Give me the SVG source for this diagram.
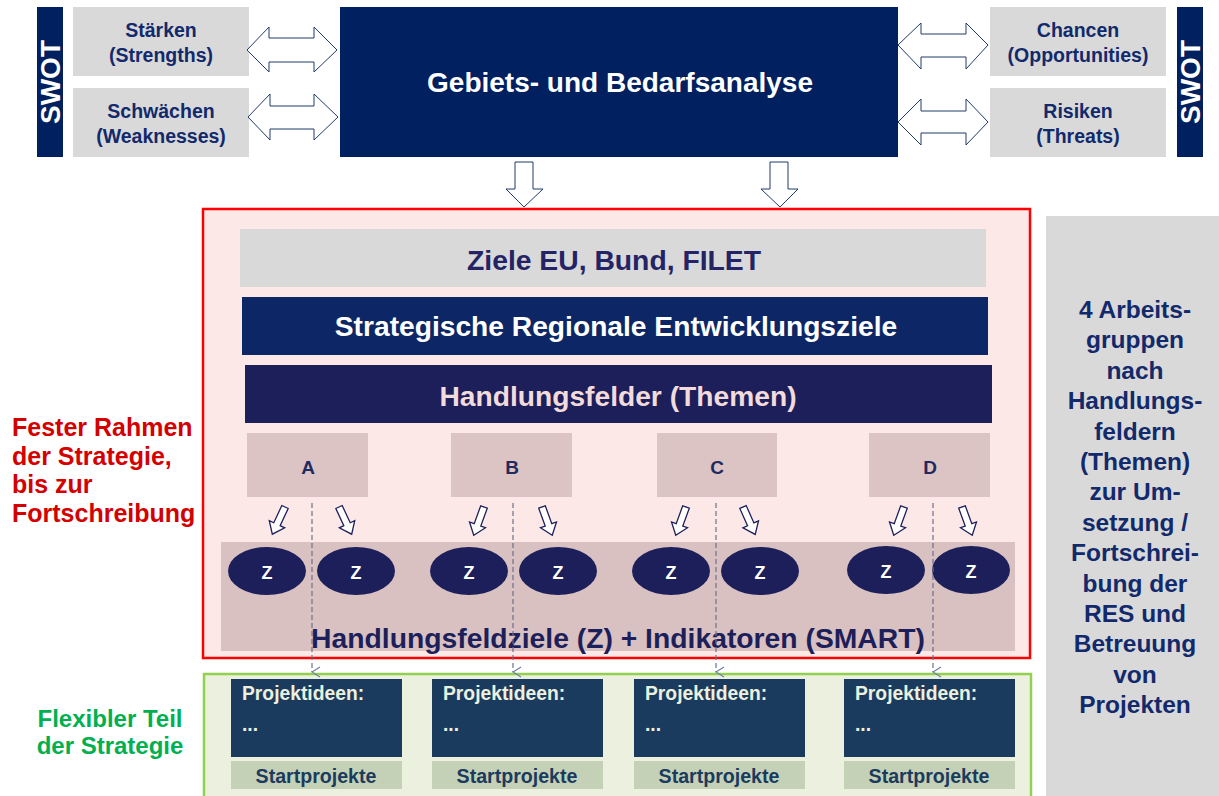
<svg xmlns="http://www.w3.org/2000/svg" width="1219" height="796" viewBox="0 0 1219 796">
<defs>
<style>
text{font-family:"Liberation Sans",Arial,sans-serif;font-weight:bold}
.gray{fill:#d9d9d9}
.navyT{fill:#12296b}
.dbl{fill:#fff;stroke:#1f3a6b;stroke-width:1}
.sm{fill:#fff;stroke:#1c1f5a;stroke-width:1.3}
.lt{fill:#dcc3c4}
.ell{fill:#1c1f5a}
.zt{fill:#fff;font-size:18px;text-anchor:middle}
.let{fill:#1f2a60;font-size:19px;text-anchor:middle}
.dash{stroke:#6e6e8e;stroke-width:1.2;stroke-dasharray:5,3;fill:none}
.pbox{fill:#1b3b5e}
.ptext{fill:#ebf1de;font-size:19.3px}
.sbox{fill:#c4d1b6}
.stext{fill:#1b3b5e;font-size:19.6px;text-anchor:middle}
.mid{text-anchor:middle}
</style>
<path id="sa" d="M-3.5,0 L3.5,0 L3.5,19 L8.5,19 L0,30 L-8.5,19 L-3.5,19 Z"/>
<marker id="vh" viewBox="0 0 12 10" refX="6" refY="9" markerWidth="12" markerHeight="10" markerUnits="userSpaceOnUse" orient="auto-start-reverse">
<path d="M1,1 L6,9 L11,1" fill="none" stroke="#6e7ea0" stroke-width="1.2"/>
</marker>
</defs>
<rect width="1219" height="796" fill="#fff"/>

<g id="swot-left">
<rect x="37" y="7" width="26" height="150" fill="#002060"/>
<text transform="translate(60,82) rotate(-90)" class="mid" fill="#fff" font-size="28">SWOT</text>
</g>
<g id="swot-right">
<rect x="1177" y="7" width="26" height="150" fill="#002060"/>
<text transform="translate(1200,82) rotate(-90)" class="mid" fill="#fff" font-size="28">SWOT</text>
</g>

<g id="staerken">
<rect x="73" y="7" width="176" height="69" class="gray"/>
<text x="161" y="37" class="mid navyT" font-size="19.5">Stärken</text>
<text x="161" y="62" class="mid navyT" font-size="19.5">(Strengths)</text>
</g>
<g id="schwaechen">
<rect x="73" y="88" width="176" height="69" class="gray"/>
<text x="161" y="118" class="mid navyT" font-size="19.5">Schwächen</text>
<text x="161" y="143" class="mid navyT" font-size="19.5">(Weaknesses)</text>
</g>
<g id="chancen">
<rect x="990" y="7" width="176" height="69" class="gray"/>
<text x="1078" y="37" class="mid navyT" font-size="19.5">Chancen</text>
<text x="1078" y="62" class="mid navyT" font-size="19.5">(Opportunities)</text>
</g>
<g id="risiken">
<rect x="990" y="88" width="176" height="69" class="gray"/>
<text x="1078" y="118" class="mid navyT" font-size="19.5">Risiken</text>
<text x="1078" y="143" class="mid navyT" font-size="19.5">(Threats)</text>
</g>

<g id="analyse">
<rect x="340" y="7" width="558" height="150" fill="#002060"/>
<text x="620" y="92" class="mid" fill="#fff" font-size="28">Gebiets- und Bedarfsanalyse</text>
</g>

<g id="fester-rahmen">
<rect x="203" y="209" width="827" height="449" fill="#fde8e8" stroke="#ff0000" stroke-width="2.5"/>
</g>
<g id="flexibler-teil">
<rect x="204" y="674" width="827" height="130" fill="#ebf1de" stroke="#92d050" stroke-width="2.5"/>
</g>

<g id="arbeitsgruppen">
<rect x="1046" y="216" width="173" height="580" class="gray"/>
<g class="mid navyT" font-size="24.5">
<text x="1135" y="318">4 Arbeits-</text>
<text x="1135" y="348.4">gruppen</text>
<text x="1135" y="378.8">nach</text>
<text x="1135" y="409.2">Handlungs-</text>
<text x="1135" y="439.6">feldern</text>
<text x="1135" y="470">(Themen)</text>
<text x="1135" y="500.4">zur Um-</text>
<text x="1135" y="530.8">setzung /</text>
<text x="1135" y="561.2">Fortschrei-</text>
<text x="1135" y="591.6">bung der</text>
<text x="1135" y="622">RES und</text>
<text x="1135" y="652.4">Betreuung</text>
<text x="1135" y="682.8">von</text>
<text x="1135" y="713.2">Projekten</text>
</g>
</g>

<g id="label-fest" fill="#d40000" font-size="25">
<text x="12" y="436">Fester Rahmen</text>
<text x="12" y="465">der Strategie,</text>
<text x="12" y="493">bis zur</text>
<text x="12" y="522">Fortschreibung</text>
</g>
<g id="label-flex" fill="#00b050" font-size="24" class="mid">
<text x="110" y="727">Flexibler Teil</text>
<text x="110" y="754">der Strategie</text>
</g>

<g id="ziele">
<rect x="240" y="229" width="746" height="58" class="gray"/>
<text x="614" y="270" class="mid" fill="#232365" font-size="28.3">Ziele EU, Bund, FILET</text>
</g>
<g id="strategische">
<rect x="242" y="297" width="746" height="58" fill="#0d2766"/>
<text x="616" y="336" class="mid" fill="#fff" font-size="28.2">Strategische Regionale Entwicklungsziele</text>
</g>
<g id="handlungsfelder">
<rect x="245" y="365" width="747" height="58" fill="#1d1f5b"/>
<text x="618" y="406" class="mid" fill="#f2dcdb" font-size="28.2">Handlungsfelder (Themen)</text>
</g>

<g id="z-band">
<rect x="221" y="542" width="794" height="109" fill="#d9c0c1"/>
<text x="618" y="648" class="mid" fill="#1c1f5a" font-size="28.3">Handlungsfeldziele (Z) + Indikatoren (SMART)</text>
</g>

<g id="feld-a"><rect x="247" y="433" width="121" height="64" class="lt"/><text x="308" y="474" class="let">A</text></g>
<g id="feld-b"><rect x="451" y="433" width="121" height="64" class="lt"/><text x="512" y="474" class="let">B</text></g>
<g id="feld-c"><rect x="657" y="433" width="120" height="64" class="lt"/><text x="717" y="474" class="let">C</text></g>
<g id="feld-d"><rect x="869" y="433" width="121" height="64" class="lt"/><text x="930" y="474" class="let">D</text></g>

<g id="z-a1"><ellipse cx="267" cy="571" rx="39" ry="24" class="ell"/><text x="267" y="579" class="zt">Z</text></g>
<g id="z-a2"><ellipse cx="356" cy="571" rx="39" ry="24" class="ell"/><text x="356" y="579" class="zt">Z</text></g>
<g id="z-b1"><ellipse cx="469" cy="571" rx="39" ry="24" class="ell"/><text x="469" y="579" class="zt">Z</text></g>
<g id="z-b2"><ellipse cx="558" cy="571" rx="39" ry="24" class="ell"/><text x="558" y="579" class="zt">Z</text></g>
<g id="z-c1"><ellipse cx="671" cy="571" rx="39" ry="24" class="ell"/><text x="671" y="579" class="zt">Z</text></g>
<g id="z-c2"><ellipse cx="760" cy="571" rx="39" ry="24" class="ell"/><text x="760" y="579" class="zt">Z</text></g>
<g id="z-d1"><ellipse cx="886" cy="570" rx="39" ry="24" class="ell"/><text x="886" y="578" class="zt">Z</text></g>
<g id="z-d2"><ellipse cx="971" cy="570" rx="39" ry="24" class="ell"/><text x="971" y="578" class="zt">Z</text></g>

<g id="projekt-1"><rect x="231" y="679" width="171" height="78" class="pbox"/><text x="242" y="700" class="ptext">Projektideen:</text><text x="242" y="731" class="ptext">...</text><rect x="231" y="761" width="171" height="28" class="sbox"/><text x="316" y="783" class="stext">Startprojekte</text></g>
<g id="projekt-2"><rect x="432" y="679" width="171" height="78" class="pbox"/><text x="443" y="700" class="ptext">Projektideen:</text><text x="443" y="731" class="ptext">...</text><rect x="432" y="761" width="171" height="28" class="sbox"/><text x="517" y="783" class="stext">Startprojekte</text></g>
<g id="projekt-3"><rect x="634" y="679" width="171" height="78" class="pbox"/><text x="645" y="700" class="ptext">Projektideen:</text><text x="645" y="731" class="ptext">...</text><rect x="634" y="761" width="171" height="28" class="sbox"/><text x="719" y="783" class="stext">Startprojekte</text></g>
<g id="projekt-4"><rect x="844" y="679" width="171" height="78" class="pbox"/><text x="855" y="700" class="ptext">Projektideen:</text><text x="855" y="731" class="ptext">...</text><rect x="844" y="761" width="171" height="28" class="sbox"/><text x="929" y="783" class="stext">Startprojekte</text></g>

<g id="connectors">
<polygon class="dbl" points="247,50 269,27 269,38 314,38 314,27 337,50 314,72 314,62 269,62 269,72"/>
<polygon class="dbl" points="248,117 270,94 270,106 314,106 314,94 338,117 314,140 314,129 270,129 270,140"/>
<polygon class="dbl" points="898,45 921,23 921,34 966,34 966,23 988,45 966,69 966,57 921,57 921,69"/>
<polygon class="dbl" points="898,122 921,99 921,111 966,111 966,99 988,122 966,145 966,133 921,133 921,145"/>
<polygon class="dbl" points="515,162 533,162 533,189 543,189 524,207 506,189 515,189"/>
<polygon class="dbl" points="770,162 788,162 788,189 798,189 780,207 761,189 770,189"/>
<use href="#sa" class="sm" transform="translate(285,507) rotate(25)"/>
<use href="#sa" class="sm" transform="translate(339,507) rotate(-25)"/>
<use href="#sa" class="sm" transform="translate(484,507) rotate(20)"/>
<use href="#sa" class="sm" transform="translate(542,507) rotate(-20)"/>
<use href="#sa" class="sm" transform="translate(686,507) rotate(20)"/>
<use href="#sa" class="sm" transform="translate(743,507) rotate(-24)"/>
<use href="#sa" class="sm" transform="translate(904,507) rotate(20)"/>
<use href="#sa" class="sm" transform="translate(962,507) rotate(-20)"/>
<line class="dash" x1="312" y1="503" x2="312" y2="672" marker-end="url(#vh)"/>
<line class="dash" x1="513" y1="503" x2="513" y2="672" marker-end="url(#vh)"/>
<line class="dash" x1="716" y1="503" x2="716" y2="672" marker-end="url(#vh)"/>
<line class="dash" x1="933" y1="503" x2="933" y2="672" marker-end="url(#vh)"/>
</g>
</svg>
